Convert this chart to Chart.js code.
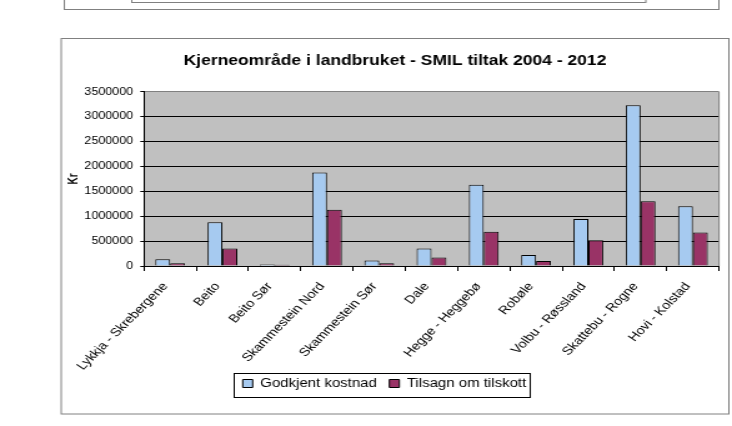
<!DOCTYPE html>
<html><head><meta charset="utf-8">
<script src="https://cdn.jsdelivr.net/npm/chart.js@4/dist/chart.umd.min.js"></script>
<style>
html,body{margin:0;padding:0;background:#fff;overflow:hidden}
#wrap{width:586px;height:426px;transform:scaleX(1.24915);transform-origin:0 0}
canvas{display:block}
</style></head><body>
<div id="wrap"><canvas id="c" width="586" height="426"></canvas></div>
<script>
const categories = ["Lykkja - Skrebergene","Beito","Beito Sør","Skammestein Nord","Skammestein Sør","Dale","Hegge - Heggebø","Robøle","Volbu - Røssland","Skattebu - Rogne","Hovi - Kolstad"];
const godkjentKostnad = [135000, 880000, 30000, 1880000, 110000, 350000, 1630000, 220000, 945000, 3230000, 1200000];
const tilsagnTilskott = [55000, 350000, 25000, 1130000, 55000, 170000, 690000, 100000, 515000, 1300000, 675000];
const yTicks = [0, 500000, 1000000, 1500000, 2000000, 2500000, 3000000, 3500000];
const seriesNames = ["Godkjent kostnad", "Tilsagn om tilskott"];
const titleText = "Kjerneområde i landbruket - SMIL tiltak 2004 - 2012";
const yTitle = "Kr";

Chart.defaults.font.family = "'Liberation Sans', Arial, sans-serif";
Chart.defaults.color = "#000";

const deco = {
  id: 'deco',
  afterLayout(chart) {
    chart.titleBlock.left += 6.4; chart.titleBlock.right += 6.4;
    const lg = chart.legend;
    lg.left -= 2; lg.right -= 2;
    lg.top -= 12.5; lg.bottom -= 12.5;
  },
  beforeDraw(chart) {
    const ctx = chart.ctx, a = chart.chartArea;
    ctx.save();
    ctx.fillStyle = '#fff';
    ctx.fillRect(0, 0, chart.width, chart.height);
    ctx.strokeStyle = '#808080';
    ctx.lineWidth = 1;
    ctx.strokeRect(51.5, -5, 524, 14.5);
    ctx.strokeRect(105.5, -5, 411.5, 7.5);
    ctx.strokeRect(49, 38.5, 534.5, 375.5);
    ctx.fillStyle = '#c0c0c0';
    ctx.fillRect(a.left, a.top, a.right - a.left, a.bottom - a.top);
    ctx.restore();
  },
  afterDatasetsDraw(chart) {
    const ctx = chart.ctx, a = chart.chartArea;
    ctx.save();
    ctx.strokeStyle = '#808080';
    ctx.lineWidth = 1;
    ctx.beginPath();
    ctx.moveTo(a.right, a.top);
    ctx.lineTo(a.right, a.bottom);
    ctx.stroke();
    ctx.restore();
  },
  afterDraw(chart) {
    const ctx = chart.ctx, lg = chart.legend;
    const cx = (lg.left + lg.right) / 2;
    const span = lg.lineWidths[0] - 10;
    const sl = cx - span / 2;
    ctx.save();
    ctx.strokeStyle = '#000';
    ctx.lineWidth = 1;
    ctx.strokeRect(Math.round(sl - 7) + 0.5, Math.round(lg.top + 5) + 0.5, span + 10, 24);
    ctx.restore();
  }
};

new Chart(document.getElementById('c'), {
  type: 'bar',
  data: {
    labels: categories,
    datasets: [
      { label: seriesNames[0], data: godkjentKostnad, backgroundColor: '#a6caf0', borderColor: '#000', borderWidth: 1 },
      { label: seriesNames[1], data: tilsagnTilskott, backgroundColor: '#993366', borderColor: '#000', borderWidth: 1 }
    ]
  },
  options: {
    responsive: false,
    animation: false,
    devicePixelRatio: 1,
    events: [],
    layout: { padding: { left: 44, right: 10.4, top: 38, bottom: 14 } },
    datasets: { bar: { barPercentage: 1, categoryPercentage: 0.57 } },
    plugins: {
      title: { display: true, text: titleText, font: { size: 14, weight: 'bold' }, color: '#000', padding: { top: 15, bottom: 22 } },
      legend: {
        position: 'bottom',
        labels: { boxWidth: 8, boxHeight: 8, padding: 10, font: { size: 12 }, color: '#000' }
      },
      tooltip: { enabled: false }
    },
    scales: {
      x: {
        grid: { display: true, drawOnChartArea: false, drawTicks: true, tickLength: 5, color: '#000', offset: true },
        border: { color: '#000', width: 1 },
        ticks: { autoSkip: false, minRotation: 51, maxRotation: 51, padding: 9, labelOffset: -4, font: { size: 11.5 }, color: '#000' },
        afterFit(s) { s.height = 114; }
      },
      y: {
        min: 0, max: 3500000,
        afterBuildTicks(s) { s.ticks = yTicks.map(v => ({ value: v })); },
        grid: {
          color: c => (c.tick && c.tick.value === 3500000) ? '#808080' : '#000',
          tickColor: '#000', tickLength: 3, lineWidth: 1
        },
        border: { color: '#000', width: 1 },
        ticks: { padding: 5.8, font: { size: 10 }, color: '#000', callback: v => String(v) },
        title: { display: true, text: yTitle, font: { size: 10, weight: 'bold' }, color: '#000', padding: { top: 9, bottom: 0 } },
        afterFit(s) { s.width = 71.3; }
      }
    }
  },
  plugins: [deco]
});
</script>
</body></html>
